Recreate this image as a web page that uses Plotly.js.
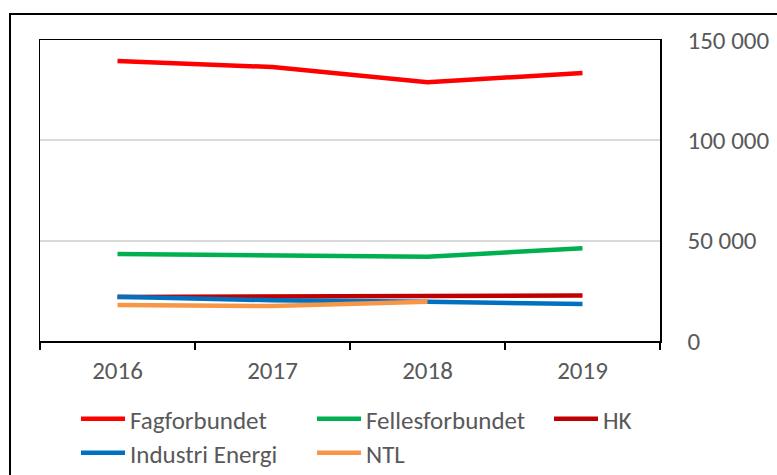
<!DOCTYPE html>
<html>
<head>
<meta charset="utf-8">
<script src="https://cdn.plot.ly/plotly-3.0.1.min.js"></script>
<style>
  html, body { margin: 0; padding: 0; background: #fff; }
  #chart { width: 777px; height: 475px; }
</style>
</head>
<body>
<div id="chart"></div>
<script>
const years = ['2016', '2017', '2018', '2019'];
const fagforbundet = [139500, 136500, 129000, 133500];
const fellesforbundet = [43300, 42400, 42000, 46200];
const hk = [21900, 22200, 22500, 22700];
const industriEnergi = [22100, 20300, 19500, 18500];
const ntl = [17900, 17400, 19600, null];
const yTicks = [0, 50000, 100000, 150000];

const FONT = 'Carlito, Calibri, Lato, sans-serif';
const TXT = '#595959';
const FS = 25;

function series(name, y, color, legend) {
  return {
    type: 'scatter', mode: 'lines', name: name, x: years, y: y,
    line: { color: color, width: 4.5 },
    connectgaps: false,
    legend: legend
  };
}

const data = [
  series('Fagforbundet', fagforbundet, '#FF0000', 'legend'),
  series('Fellesforbundet', fellesforbundet, '#00B050', 'legend2'),
  series('HK', hk, '#C00000', 'legend3'),
  series('Industri Energi', industriEnergi, '#0070C0', 'legend4'),
  series('NTL', ntl, '#F79646', 'legend5')
];

function leg(px, py) {
  return {
    orientation: 'h',
    itemwidth: 44,
    xref: 'container', yref: 'container',
    x: px / 777, y: 1 - py / 475,
    xanchor: 'left', yanchor: 'middle',
    bgcolor: 'rgba(0,0,0,0)',
    font: { family: FONT, size: FS, color: TXT }
  };
}

const layout = {
  width: 777, height: 475,
  margin: { l: 40, r: 117, t: 40, b: 134 },
  paper_bgcolor: '#fff', plot_bgcolor: '#fff',
  separators: ', ',
  font: { family: FONT, size: FS, color: TXT },
  showlegend: true,
  legend: leg(76, 419),
  legend2: leg(312, 419),
  legend3: leg(549, 419),
  legend4: leg(76, 453),
  legend5: leg(312, 453),
  xaxis: {
    type: 'category', categoryorder: 'array', categoryarray: years,
    range: [-0.5, 3.5],
    tickson: 'boundaries', ticks: 'outside', ticklen: 7, tickwidth: 1.5, tickcolor: '#000',
    showline: true, linecolor: '#000', linewidth: 1.5, mirror: true,
    showgrid: false, zeroline: false,
    ticklabelstandoff: 6,
    tickfont: { family: FONT, size: FS, color: TXT }
  },
  yaxis: {
    side: 'right',
    range: [0, 150000],
    tickvals: yTicks, tickformat: ',',
    showgrid: true, gridcolor: '#d9d9d9', gridwidth: 2,
    showline: true, linecolor: '#000', linewidth: 1.5, mirror: true,
    zeroline: false, ticks: '',
    ticklabelstandoff: 21,
    tickfont: { family: FONT, size: FS, color: TXT }
  },
  shapes: [{
    type: 'rect', xref: 'paper', yref: 'paper',
    x0: (10 - 40) / 620, x1: (800 - 40) / 620,
    y0: (341 - 480) / 301, y1: (341 - 14) / 301,
    line: { color: '#000', width: 2 }, fillcolor: 'rgba(0,0,0,0)',
    layer: 'below'
  }]
};

Plotly.newPlot('chart', data, layout, { staticPlot: true, displayModeBar: false });
</script>
</body>
</html>
